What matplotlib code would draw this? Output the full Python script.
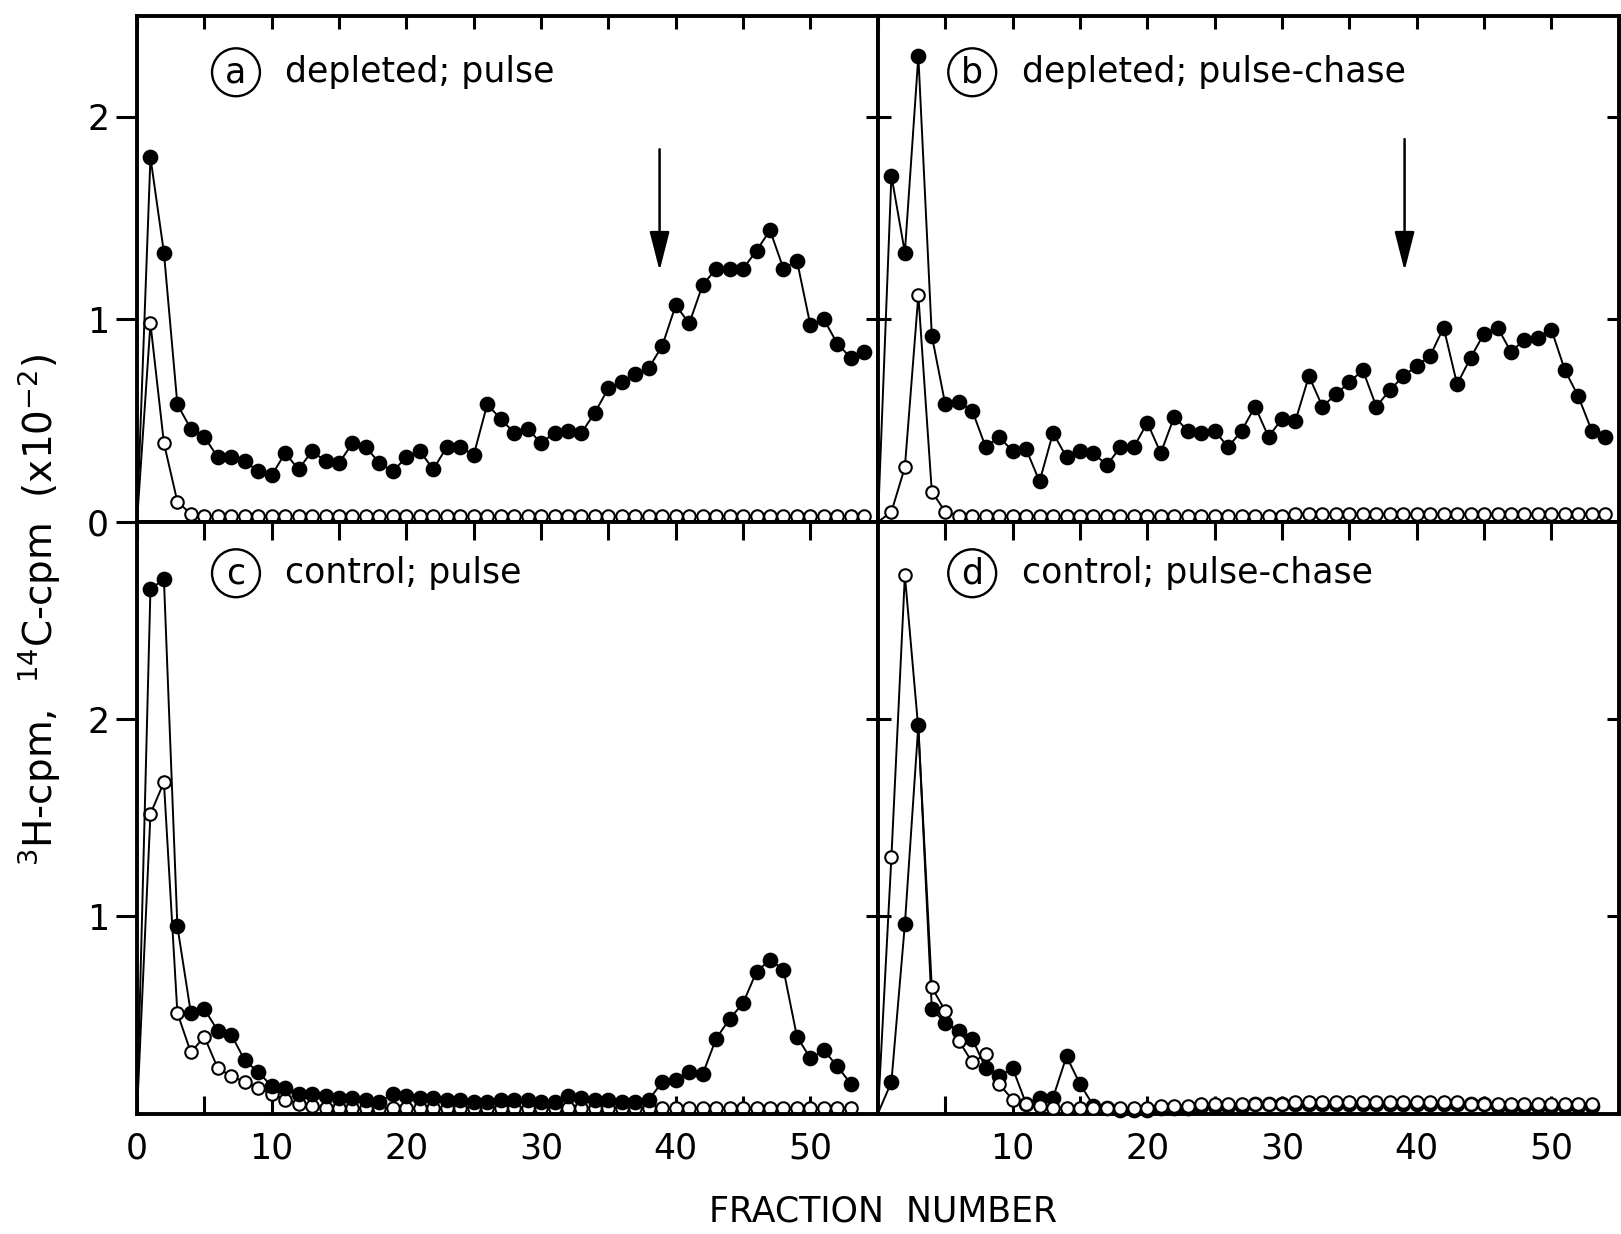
import numpy as np
import matplotlib.pyplot as plt

# fraction numbers
frac_ab = list(range(1, 55))
frac_cd = list(range(1, 54))

# (a) depleted; pulse
a_filled = [1.80, 1.33, 0.58, 0.46, 0.42, 0.32, 0.32, 0.30, 0.25, 0.23,
            0.34, 0.26, 0.35, 0.30, 0.29, 0.39, 0.37, 0.29, 0.25, 0.32,
            0.35, 0.26, 0.37, 0.37, 0.33, 0.58, 0.51, 0.44, 0.46, 0.39,
            0.44, 0.45, 0.44, 0.54, 0.66, 0.69, 0.73, 0.76, 0.87, 1.07,
            0.98, 1.17, 1.25, 1.25, 1.25, 1.34, 1.44, 1.25, 1.29, 0.97,
            1.00, 0.88, 0.81, 0.84]
a_open = [0.98, 0.39, 0.10, 0.04, 0.03, 0.03, 0.03, 0.03, 0.03, 0.03,
          0.03, 0.03, 0.03, 0.03, 0.03, 0.03, 0.03, 0.03, 0.03, 0.03,
          0.03, 0.03, 0.03, 0.03, 0.03, 0.03, 0.03, 0.03, 0.03, 0.03,
          0.03, 0.03, 0.03, 0.03, 0.03, 0.03, 0.03, 0.03, 0.03, 0.03,
          0.03, 0.03, 0.03, 0.03, 0.03, 0.03, 0.03, 0.03, 0.03, 0.03,
          0.03, 0.03, 0.03, 0.03]

# (b) depleted; pulse-chase
b_filled = [1.71, 1.33, 2.30, 0.92, 0.58, 0.59, 0.55, 0.37, 0.42, 0.35,
            0.36, 0.20, 0.44, 0.32, 0.35, 0.34, 0.28, 0.37, 0.37, 0.49,
            0.34, 0.52, 0.45, 0.44, 0.45, 0.37, 0.45, 0.57, 0.42, 0.51,
            0.50, 0.72, 0.57, 0.63, 0.69, 0.75, 0.57, 0.65, 0.72, 0.77,
            0.82, 0.96, 0.68, 0.81, 0.93, 0.96, 0.84, 0.90, 0.91, 0.95,
            0.75, 0.62, 0.45, 0.42]
b_open = [0.05, 0.27, 1.12, 0.15, 0.05, 0.03, 0.03, 0.03, 0.03, 0.03,
          0.03, 0.03, 0.03, 0.03, 0.03, 0.03, 0.03, 0.03, 0.03, 0.03,
          0.03, 0.03, 0.03, 0.03, 0.03, 0.03, 0.03, 0.03, 0.03, 0.03,
          0.04, 0.04, 0.04, 0.04, 0.04, 0.04, 0.04, 0.04, 0.04, 0.04,
          0.04, 0.04, 0.04, 0.04, 0.04, 0.04, 0.04, 0.04, 0.04, 0.04,
          0.04, 0.04, 0.04, 0.04]

# (c) control; pulse
c_filled = [2.66, 2.71, 0.95, 0.51, 0.53, 0.42, 0.40, 0.27, 0.21, 0.14,
            0.13, 0.10, 0.10, 0.09, 0.08, 0.08, 0.07, 0.06, 0.10, 0.09,
            0.08, 0.08, 0.07, 0.07, 0.06, 0.06, 0.07, 0.07, 0.07, 0.06,
            0.06, 0.09, 0.08, 0.07, 0.07, 0.06, 0.06, 0.07, 0.16, 0.17,
            0.21, 0.20, 0.38, 0.48, 0.56, 0.72, 0.78, 0.73, 0.39, 0.28,
            0.32, 0.24, 0.15]
c_open = [1.52, 1.68, 0.51, 0.31, 0.39, 0.23, 0.19, 0.16, 0.13, 0.10,
          0.07, 0.05, 0.04, 0.03, 0.03, 0.03, 0.03, 0.03, 0.03, 0.03,
          0.03, 0.03, 0.03, 0.03, 0.03, 0.03, 0.03, 0.03, 0.03, 0.03,
          0.03, 0.03, 0.03, 0.03, 0.03, 0.03, 0.03, 0.03, 0.03, 0.03,
          0.03, 0.03, 0.03, 0.03, 0.03, 0.03, 0.03, 0.03, 0.03, 0.03,
          0.03, 0.03, 0.03]

# (d) control; pulse-chase
d_filled = [0.16, 0.96, 1.97, 0.53, 0.46, 0.42, 0.38, 0.23, 0.19, 0.23,
            0.05, 0.08, 0.08, 0.29, 0.15, 0.04, 0.03, 0.02, 0.02, 0.02,
            0.03, 0.03, 0.03, 0.04, 0.04, 0.04, 0.04, 0.05, 0.05, 0.05,
            0.05, 0.05, 0.05, 0.05, 0.05, 0.05, 0.05, 0.05, 0.05, 0.05,
            0.05, 0.05, 0.05, 0.05, 0.05, 0.04, 0.04, 0.04, 0.04, 0.04,
            0.04, 0.04, 0.04]
d_open = [1.30, 2.73, 1.95, 0.64, 0.52, 0.37, 0.26, 0.30, 0.15, 0.07,
          0.05, 0.04, 0.03, 0.03, 0.03, 0.03, 0.03, 0.03, 0.03, 0.03,
          0.04, 0.04, 0.04, 0.05, 0.05, 0.05, 0.05, 0.05, 0.05, 0.05,
          0.06, 0.06, 0.06, 0.06, 0.06, 0.06, 0.06, 0.06, 0.06, 0.06,
          0.06, 0.06, 0.06, 0.05, 0.05, 0.05, 0.05, 0.05, 0.05, 0.05,
          0.05, 0.05, 0.05]

panel_letters = ['a', 'b', 'c', 'd']
panel_titles = ['depleted; pulse', 'depleted; pulse-chase',
                'control; pulse', 'control; pulse-chase']
arrow_pos = {'a': 38.8, 'b': 39.1}

plt.rcParams['font.family'] = ['DejaVu Sans']
FS = 25

fig = plt.figure(figsize=(16.21, 12.34), dpi=100)
L, R, W = 0.0845, 0.5416, 0.457
top_y, top_h = 0.577, 0.4104
bot_y, bot_h = 0.0976, 0.4794

ax_a = fig.add_axes([L, top_y, W, top_h])
ax_b = fig.add_axes([R, top_y, W, top_h])
ax_c = fig.add_axes([L, bot_y, W, bot_h])
ax_d = fig.add_axes([R, bot_y, W, bot_h])


def draw_series(ax, x, y, filled, z, every=None):
    # every curve starts from the origin without a marker
    xs = [0] + list(x)
    ys = [0] + list(y)
    if every is None:
        every = slice(1, None)
    ax.plot(xs, ys, color='black', lw=1.4, marker='o',
            ms=9.8 if filled else 9.0,
            mfc='black' if filled else 'white', mec='black', mew=1.5,
            markevery=every, zorder=z, clip_on=False)


series = [(ax_a, frac_ab, a_filled, a_open),
          (ax_b, frac_ab, b_filled, b_open),
          (ax_c, frac_cd, c_filled, c_open),
          (ax_d, frac_cd, d_filled, d_open)]

for i, (ax, x, yf, yo) in enumerate(series):
    if panel_letters[i] == 'd':
        # open circles lie over the filled ones along the baseline;
        # the open point under the filled peak is hidden
        draw_series(ax, x, yf, True, 2)
        draw_series(ax, x, yo, False, 3,
                    every=[k for k in range(1, len(x) + 1) if k != 3])
    else:
        draw_series(ax, x, yo, False, 2)
        draw_series(ax, x, yf, True, 3)
    top = i < 2
    left = i % 2 == 0
    ax.set_xlim(0, 55)
    ax.set_ylim(0, 2.5 if top else 3.0)
    for s in ax.spines.values():
        s.set_linewidth(2.8)

    ax.set_xticks([0, 10, 20, 30, 40, 50])
    ax.set_xticks([5, 15, 25, 35, 45], minor=True)
    if top:
        ax.tick_params(axis='x', which='both', top=True, bottom=False,
                       direction='in', length=9, width=2.2, labelbottom=False)
    else:
        ax.tick_params(axis='x', which='both', top=True, bottom=True,
                       direction='in', length=13, width=2.2, labelsize=FS, pad=13)
        if not left:
            ax.set_xticks([10, 20, 30, 40, 50])

    ax.set_yticks([0, 1, 2] if top else [1, 2])
    if left:
        ax.tick_params(axis='y', left=True, right=False, direction='out',
                       length=15, width=2.2, labelsize=FS, pad=5)
    else:
        ax.tick_params(axis='y', left=True, right=True, direction='inout',
                       length=18, width=2.2, labelleft=False)

    ymid = 2.22 if top else 2.74
    xc = 7.35 if left else 7.0
    xt = 11.0 if left else 10.7
    ax.text(xc, ymid, panel_letters[i], ha='center', va='center', fontsize=FS,
            bbox=dict(boxstyle='circle,pad=0.2', fc='white', ec='black', lw=1.7))
    ax.text(xt, ymid, panel_titles[i], ha='left', va='center', fontsize=FS)

    if panel_letters[i] in arrow_pos:
        xa = arrow_pos[panel_letters[i]]
        y0 = 1.84 if panel_letters[i] == 'a' else 1.89
        ax.annotate('', xy=(xa, 1.24), xytext=(xa, y0),
                    arrowprops=dict(arrowstyle='-|>,head_length=1.1,head_width=0.28',
                                    lw=1.8, color='black', mutation_scale=22,
                                    shrinkA=0, shrinkB=0))

fig.text(0.024, 0.506, r'$^3$H-cpm,  $^{14}$C-cpm  (x10$^{-2}$)', rotation=90,
         ha='center', va='center', fontsize=28)
fig.text(0.545, 0.018, 'FRACTION  NUMBER', ha='center', va='center', fontsize=FS)

fig.savefig('out.png', dpi=100, facecolor='white')
